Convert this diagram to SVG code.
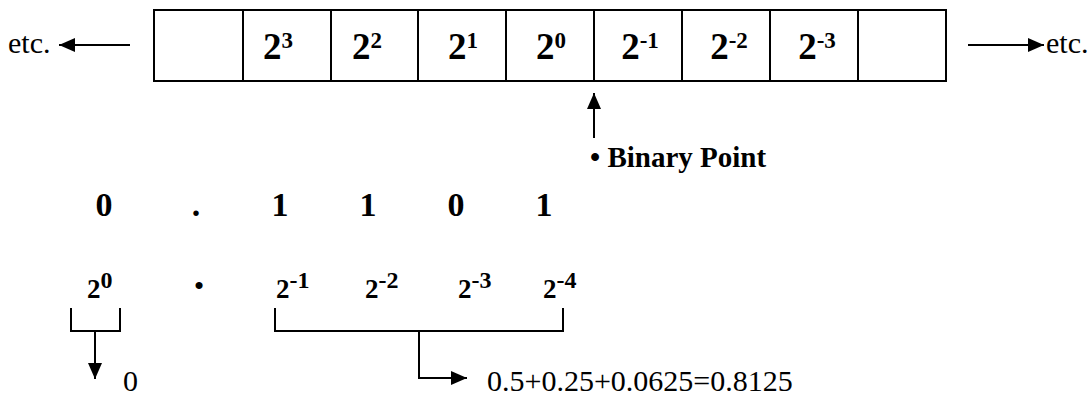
<svg xmlns="http://www.w3.org/2000/svg" width="1092" height="398" viewBox="0 0 1092 398">
<style>
text{font-family:'Liberation Serif','Times New Roman',serif;fill:#000}
.b{font-weight:bold}
.ln{stroke:#000;stroke-width:2;fill:none}
.cell{stroke:#000;stroke-width:2;fill:#fff}
</style>
<defs>
<marker id="ah" viewBox="0 0 16 14" refX="16" refY="7" markerWidth="16" markerHeight="14" markerUnits="userSpaceOnUse" orient="auto">
<path d="M0,0 L16,7 L0,14 z" fill="#000"/>
</marker>
</defs>
<g id="register">
<rect class="cell" x="154" y="10" width="792" height="71"/>
<path class="ln" d="M243,10V81M331,10V81M418,10V81M506,10V81M594,10V81M682,10V81M770,10V81M858,10V81"/>
<g class="b" font-size="37" text-anchor="middle">
<text x="278" y="59">2<tspan font-size="23" dy="-11">3</tspan></text>
<text x="367" y="59">2<tspan font-size="23" dy="-11">2</tspan></text>
<text x="463" y="59">2<tspan font-size="23" dy="-11">1</tspan></text>
<text x="551" y="59">2<tspan font-size="23" dy="-11">0</tspan></text>
<text x="640" y="59">2<tspan font-size="23" dy="-11">-1</tspan></text>
<text x="729" y="59">2<tspan font-size="23" dy="-11">-2</tspan></text>
<text x="817" y="59">2<tspan font-size="23" dy="-11">-3</tspan></text>
</g>
</g>
<g id="etc-left"><text x="8" y="53" font-size="30">etc.</text></g>
<g id="etc-right"><text x="1046" y="53" font-size="30">etc.</text></g>
<g id="binary-point"><text class="b" x="590" y="167" font-size="29">• Binary Point</text></g>
<g id="digits" class="b" font-size="34" text-anchor="middle">
<text x="104" y="216">0</text>
<text x="196" y="216">.</text>
<text x="280" y="216">1</text>
<text x="368" y="216">1</text>
<text x="456" y="216">0</text>
<text x="544" y="216">1</text>
</g>
<g id="powers" class="b" font-size="27">
<text x="87" y="298">2<tspan font-size="24" dy="-10">0</tspan></text>
<text x="199" y="294" font-size="26" text-anchor="middle">•</text>
<text x="276" y="298">2<tspan font-size="24" dy="-10">-1</tspan></text>
<text x="365" y="298">2<tspan font-size="24" dy="-10">-2</tspan></text>
<text x="458" y="298">2<tspan font-size="24" dy="-10">-3</tspan></text>
<text x="543" y="298">2<tspan font-size="24" dy="-10">-4</tspan></text>
</g>
<g id="result-int"><text x="123" y="391" font-size="30">0</text></g>
<g id="result-frac"><text x="487" y="391" font-size="30">0.5+0.25+0.0625=0.8125</text></g>
<g id="connectors">
<line class="ln" x1="130" y1="45" x2="59" y2="45" marker-end="url(#ah)"/>
<line class="ln" x1="968" y1="45" x2="1044" y2="45" marker-end="url(#ah)"/>
<line class="ln" x1="594" y1="138" x2="594" y2="93" marker-end="url(#ah)"/>
<path class="ln" d="M71,308V331H120V308"/>
<line class="ln" x1="95" y1="331" x2="95" y2="379" marker-end="url(#ah)"/>
<path class="ln" d="M275,308V331H563V308"/>
<path class="ln" d="M419,331V378H467" marker-end="url(#ah)"/>
</g>
</svg>
